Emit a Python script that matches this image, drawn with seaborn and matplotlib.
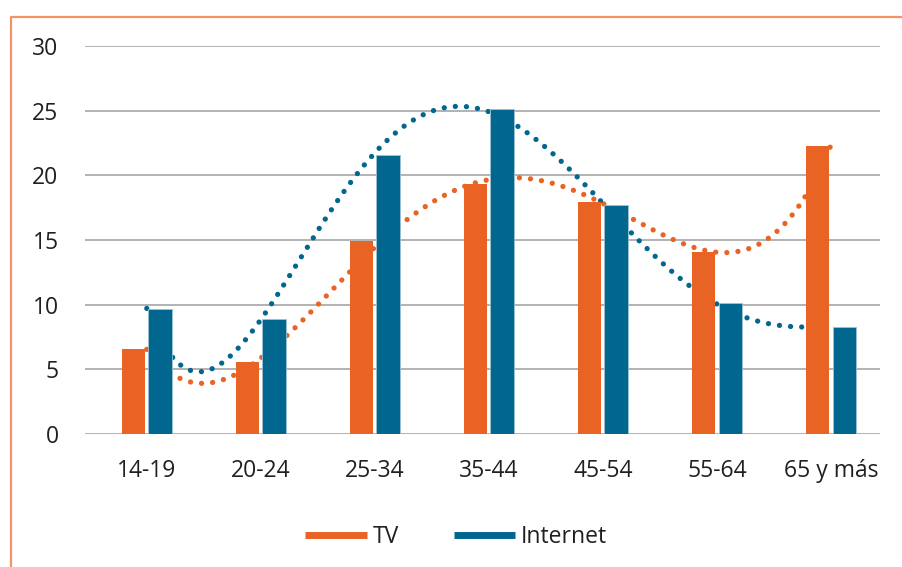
import numpy as np
import pandas as pd
import matplotlib
matplotlib.use("Agg")
import matplotlib.pyplot as plt
from matplotlib.lines import Line2D
import seaborn as sns

# Share of each medium by age group
age_groups = ["14-19", "20-24", "25-34", "35-44", "45-54", "55-64", "65 y más"]
tv = [6.6, 5.6, 14.9, 19.3, 17.9, 14.1, 22.3]
internet = [9.7, 8.9, 21.6, 25.1, 17.7, 10.1, 8.3]
series_names = ["TV", "Internet"]
y_ticks = [0, 5, 10, 15, 20, 25, 30]

# Polynomial trendline orders for each series
tv_trend_order = 4
internet_trend_order = 5

ORANGE = "#E96325"
BLUE = "#02678F"
TEXT = "#231F20"
FS = 16.5

sns.set_theme(style="white")
plt.rcParams["font.family"] = ["Open Sans", "DejaVu Sans"]

df = pd.DataFrame({
    "grupo": age_groups * 2,
    "valor": tv + internet,
    "serie": [series_names[0]] * len(tv) + [series_names[1]] * len(internet),
})

fig = plt.figure(figsize=(9.03, 5.67), dpi=100)
ax = fig.add_axes([0.0941, 0.2346, 0.8804, 0.6843])

sns.barplot(data=df, x="grupo", y="valor", hue="serie", order=age_groups,
            hue_order=series_names, palette=[ORANGE, BLUE], width=0.47,
            gap=0.12, saturation=1, legend=False, ax=ax, zorder=3)
for p in ax.patches:
    if np.allclose(p.get_facecolor()[:3], matplotlib.colors.to_rgb(BLUE)):
        p.set_edgecolor("#9CC2D4")
        p.set_linewidth(0.6)
    else:
        p.set_linewidth(0)

# Dotted polynomial trendlines, drawn beneath the bars
xs = np.arange(len(age_groups))
xx = np.linspace(0, len(age_groups) - 1, 500)
for vals, order, col in [(tv, tv_trend_order, ORANGE),
                         (internet, internet_trend_order, BLUE)]:
    poly = np.polynomial.Polynomial.fit(xs, vals, order)
    ax.plot(xx, poly(xx), color=col, lw=3.8, linestyle=(0, (0.01, 2.1)),
            dash_capstyle="round", zorder=2)

ax.set_ylim(0, 30)
ax.set_xlim(-0.542, 6.43)
ax.set_yticks(y_ticks)
ax.yaxis.grid(True, color="#A6A6A6", lw=1.2, zorder=1)
ax.set_axisbelow(True)
ax.xaxis.grid(False)
for s in ax.spines.values():
    s.set_visible(False)
ax.set_xlabel("")
ax.set_ylabel("")
ax.tick_params(axis="y", length=0, pad=19, labelsize=FS, labelcolor=TEXT)
ax.tick_params(axis="x", length=0, pad=18, labelsize=FS, labelcolor=TEXT)

handles = [Line2D([0], [0], color=ORANGE, lw=5, solid_capstyle="butt"),
           Line2D([0], [0], color=BLUE, lw=5, solid_capstyle="butt")]
fig.legend(handles, series_names, loc="center", bbox_to_anchor=(0.505, 0.053),
           ncol=2, frameon=False, fontsize=FS, handlelength=2.7,
           handletextpad=0.25, columnspacing=2.4, labelcolor=TEXT)

# Orange frame along the top and left
frame = "#F2946A"
fig.add_artist(Line2D([11 / 903, 1.0], [1 - 17 / 567, 1 - 17 / 567],
                      transform=fig.transFigure, color=frame, lw=1.6))
fig.add_artist(Line2D([11 / 903, 11 / 903], [0, 1 - 17 / 567],
                      transform=fig.transFigure, color=frame, lw=1.6))

fig.savefig("out.png", dpi=100)
